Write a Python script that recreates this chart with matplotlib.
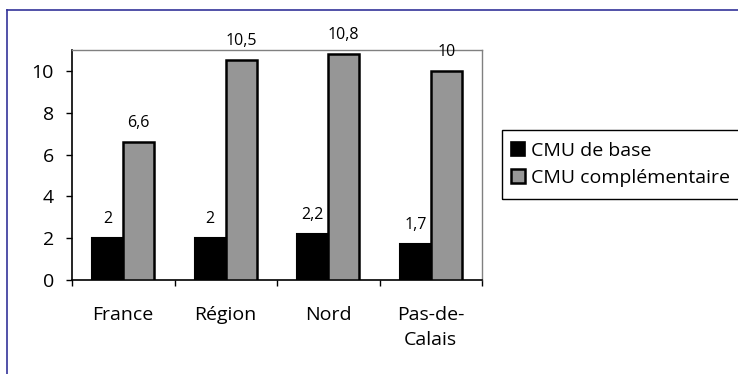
import matplotlib
matplotlib.use("Agg")
import matplotlib.pyplot as plt
from matplotlib.lines import Line2D
from matplotlib.patches import Patch, Rectangle
import numpy as np

categories = ["France", "Région", "Nord", "Pas-de-\nCalais"]
cmu_base = [2, 2, 2.2, 1.7]
cmu_comp = [6.6, 10.5, 10.8, 10]
series_names = ["CMU de base", "CMU complémentaire"]
y_ticks = [0, 2, 4, 6, 8, 10]

plt.rcParams["font.family"] = ["Open Sans", "DejaVu Sans"]

W, H = 738, 374
fig = plt.figure(figsize=(W / 100, H / 100), dpi=100)
ax = fig.add_axes([72 / W, 1 - 280 / H, (482 - 72) / W, (280 - 50) / H])

x = np.arange(len(categories))
bw = 0.302
ax.bar(x, cmu_base, width=-bw, align="edge", color="black",
       edgecolor="black", linewidth=1.5, zorder=3)
ax.bar(x, cmu_comp, width=bw, align="edge", color="#969696",
       edgecolor="black", linewidth=1.8, zorder=3)

def fmt(v):
    s = f"{v:g}"
    return s.replace(".", ",")

for xi, v in zip(x, cmu_base):
    ax.annotate(fmt(v), (xi - bw / 2, v), xytext=(0, 8), textcoords="offset points",
                ha="center", va="bottom", fontsize=11.5)
for xi, v in zip(x, cmu_comp):
    ax.annotate(fmt(v), (xi + bw / 2, v), xytext=(0, 8), textcoords="offset points",
                ha="center", va="bottom", fontsize=11.5)

ax.set_xlim(-0.5, len(categories) - 0.5)
ax.set_ylim(0, 11)
ax.set_yticks(y_ticks)
ax.set_yticklabels([str(t) for t in y_ticks], fontsize=14)
ax.tick_params(axis="y", direction="out", length=4, width=1, pad=9)

ax.set_xticks(x)
ax.set_xticklabels(categories, fontsize=14, linespacing=1.5, va="top")
ax.tick_params(axis="x", which="major", length=0, pad=19)
ax.set_xticks(np.arange(-0.5, len(categories), 1.0), minor=True)
ax.tick_params(axis="x", which="minor", direction="out", length=4, width=1)

for side in ("left", "bottom"):
    ax.spines[side].set_color("black")
    ax.spines[side].set_linewidth(1.2)
for side in ("top", "right"):
    ax.spines[side].set_color("#808080")
    ax.spines[side].set_linewidth(1.0)

handles = [Patch(facecolor="black", edgecolor="black", linewidth=1.2),
           Patch(facecolor="#969696", edgecolor="black", linewidth=1.8)]
leg = fig.legend(handles, series_names, loc="center left",
                 bbox_to_anchor=(504 / W, 1 - 199 / H, 200 / W, 69 / H),
                 fontsize=14, frameon=False,
                 handlelength=0.75, handleheight=0.75, handletextpad=0.3,
                 borderpad=0.35, labelspacing=0.45, borderaxespad=0)

# legend box runs past the right edge of the chart
fig.add_artist(Rectangle((502 / W, 1 - 199 / H), 300 / W, 69 / H,
                         transform=fig.transFigure, fill=False,
                         edgecolor="black", linewidth=1.0))

# outer chart frame
frame_color = "#333399"
fig.add_artist(Line2D([7 / W, 1.0], [1 - 10 / H, 1 - 10 / H],
                      transform=fig.transFigure, color=frame_color, linewidth=1.2))
fig.add_artist(Line2D([7 / W, 7 / W], [1 - 10 / H, 0.0],
                      transform=fig.transFigure, color=frame_color, linewidth=1.2))

fig.savefig("out.png", dpi=100)
